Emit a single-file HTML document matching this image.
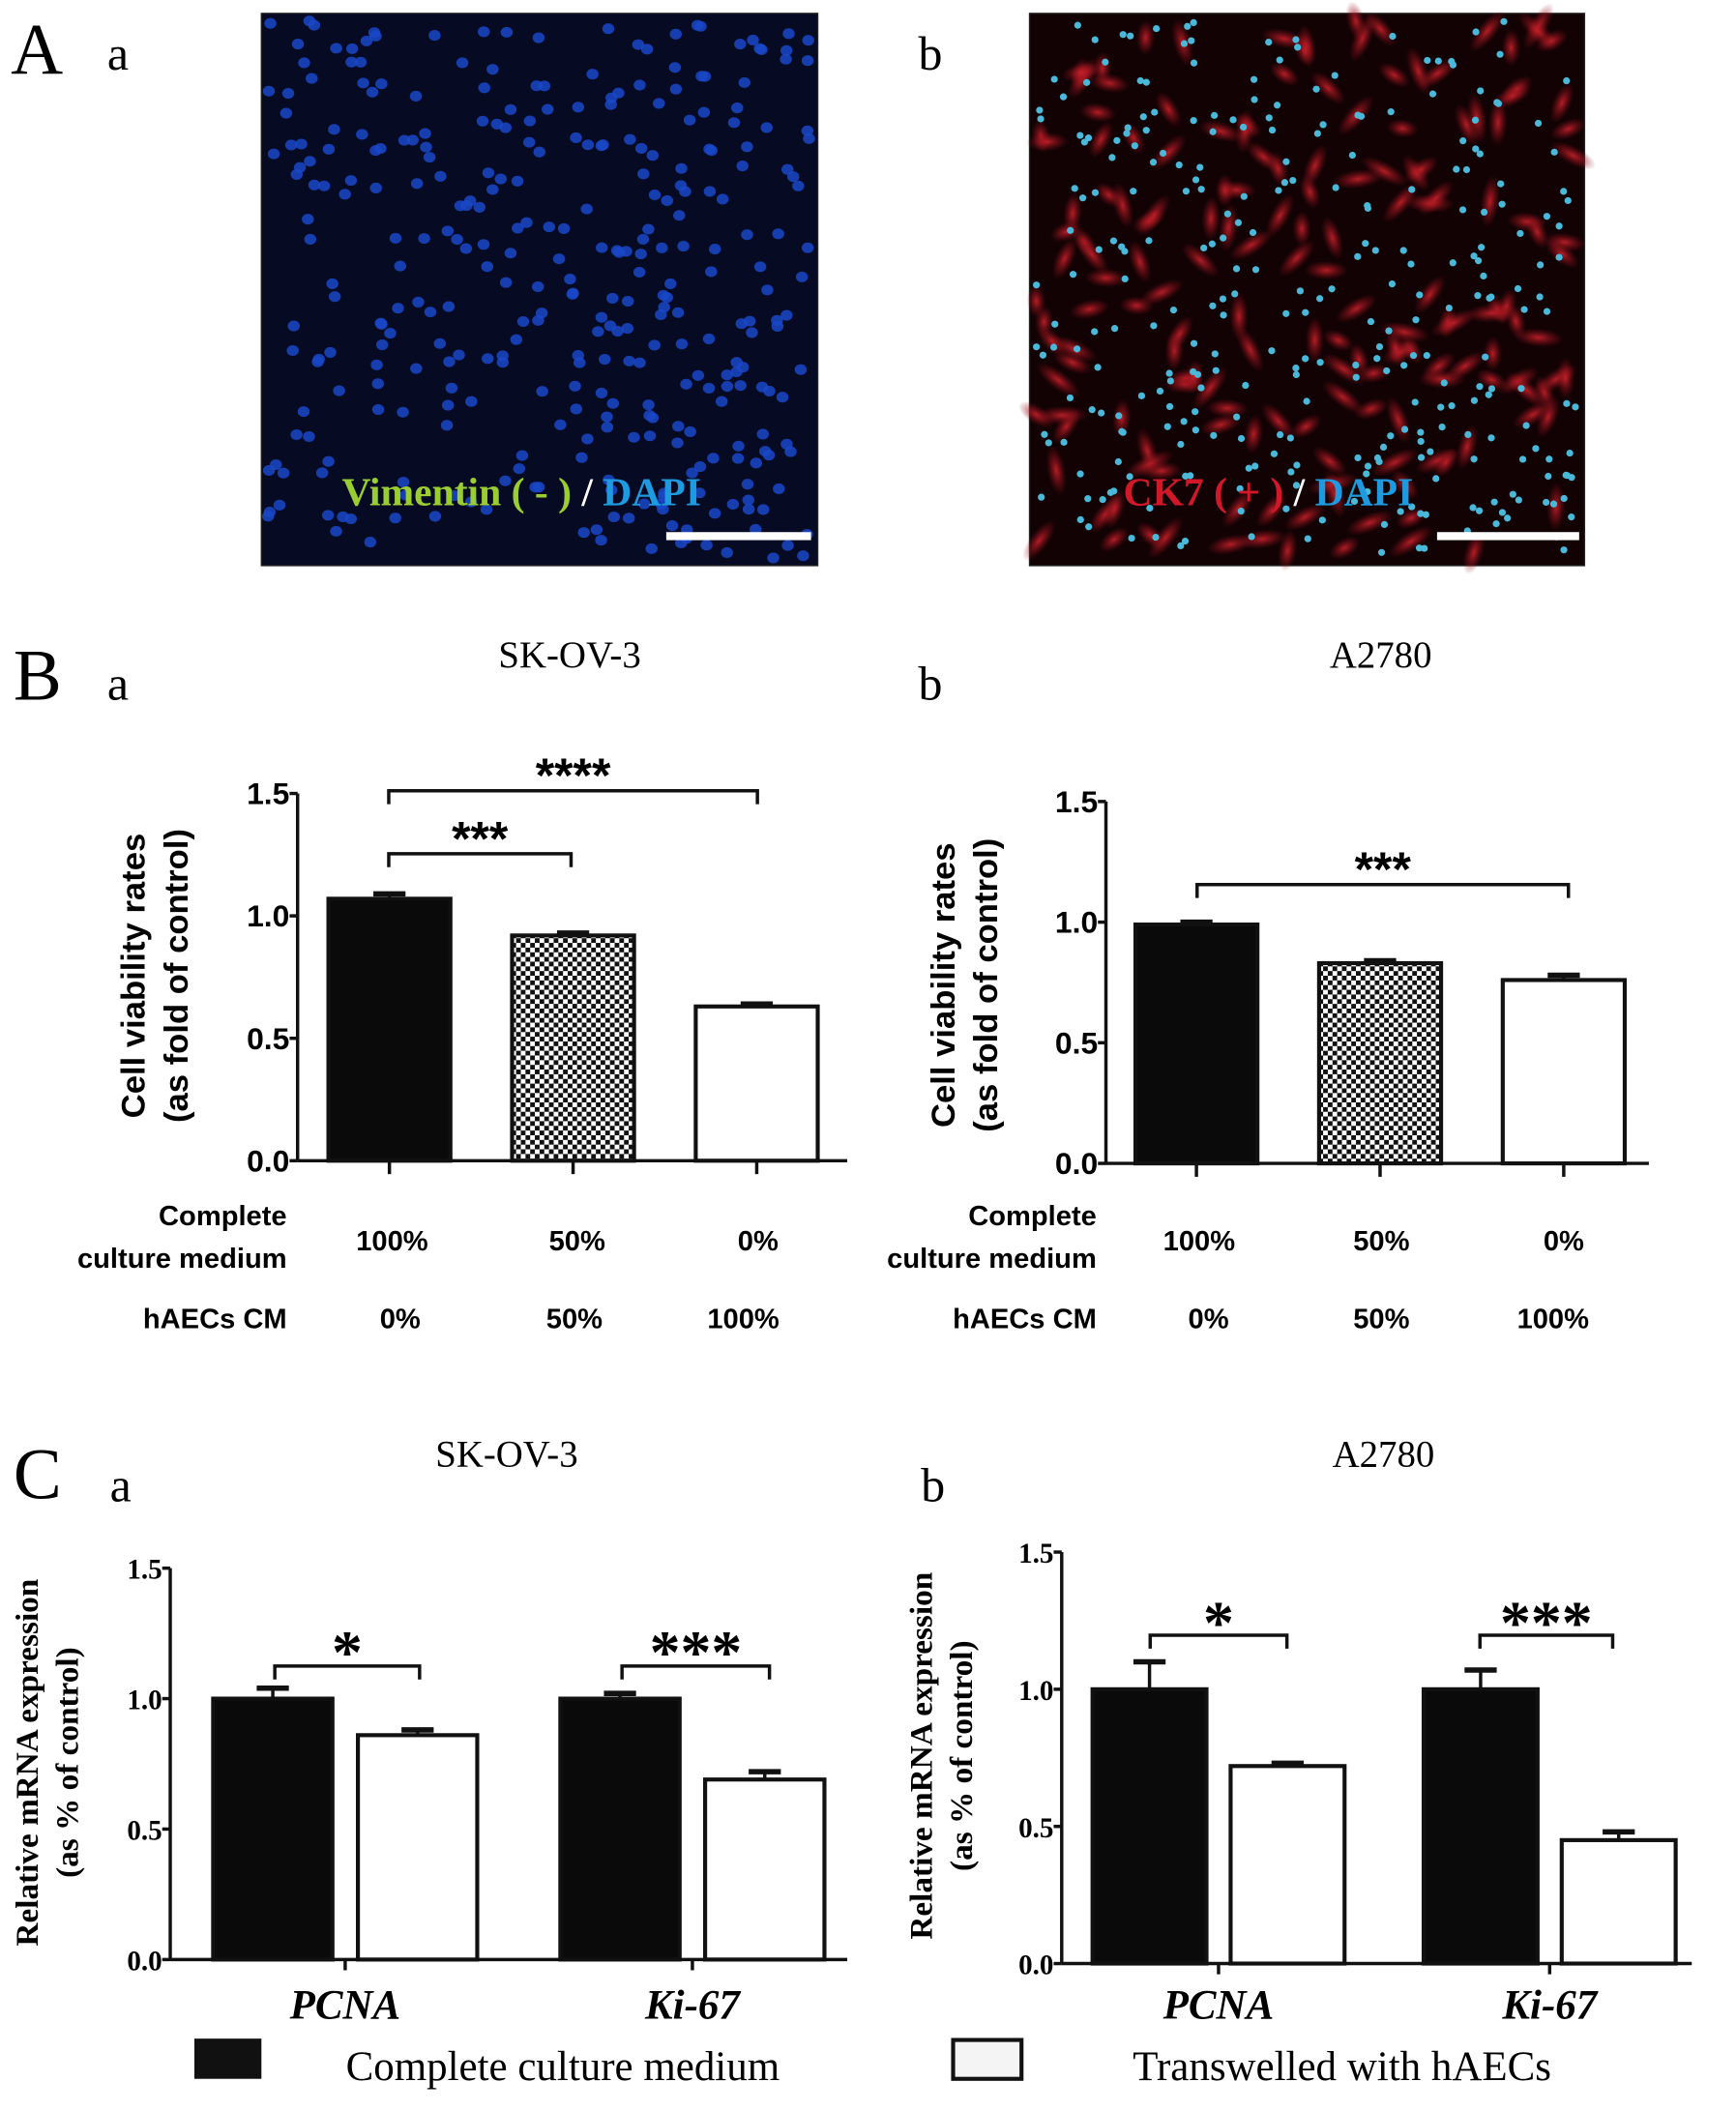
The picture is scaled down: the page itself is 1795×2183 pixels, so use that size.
<!DOCTYPE html>
<html><head><meta charset="utf-8"><style>
html,body{margin:0;padding:0;background:#fff;width:1795px;height:2183px;overflow:hidden}
svg{display:block}
.sans{font-family:"Liberation Sans",sans-serif;font-weight:bold}
.serif{font-family:"Liberation Serif",serif;font-weight:bold}
.norm{font-weight:normal}
</style></head><body>
<svg id="fig" width="1795" height="2183" viewBox="0 0 1295 1575" preserveAspectRatio="none" xmlns="http://www.w3.org/2000/svg">
<defs>
<pattern id="checker" width="7" height="7" patternUnits="userSpaceOnUse">
<rect width="7" height="7" fill="#fff"/><rect width="3.5" height="3.5" fill="#111"/><rect x="3.5" y="3.5" width="3.5" height="3.5" fill="#111"/>
</pattern>
<radialGradient id="redcell"><stop offset="0" stop-color="#c8202a" stop-opacity="0.9"/><stop offset="1" stop-color="#8a0f18" stop-opacity="0"/></radialGradient>
</defs>
<g class="serif norm" font-size="54">
<text x="8" y="55">A</text>
<text x="10" y="522">B</text>
<text x="10" y="1118">C</text>
</g>
<g class="serif norm" font-size="36">
<text x="80" y="52">a</text>
<text x="685" y="52">b</text>
<text x="80" y="522">a</text>
<text x="685" y="522">b</text>
<text x="82" y="1120">a</text>
<text x="687" y="1120">b</text>
</g>
<rect x="195" y="10" width="415" height="412" fill="#060a22" stroke="#222"/>
<g id="dotsA"></g>
<rect x="768" y="10" width="414" height="412" fill="#120204" stroke="#222"/>
<g id="dotsB"></g>
<text x="255" y="377" class="serif" font-size="30"><tspan fill="#9acd32">Vimentin ( - )</tspan><tspan fill="#fff"> / </tspan><tspan fill="#1e9be0">DAPI</tspan></text>
<text x="838" y="377" class="serif" font-size="30"><tspan fill="#d01828">CK7 ( + )</tspan><tspan fill="#fff"> / </tspan><tspan fill="#1e9be0">DAPI</tspan></text>
<rect x="497" y="397" width="108" height="6" fill="#fff"/>
<rect x="1072" y="397" width="106" height="6" fill="#fff"/>
<g id="charts"></g>
<rect x="145" y="1521" width="50" height="30" fill="#111"/>
<text x="258" y="1552" class="serif norm" font-size="31">Complete culture medium</text>
<rect x="711" y="1522" width="51" height="29" fill="#f4f4f4" stroke="#111" stroke-width="3"/>
<text x="845" y="1552" class="serif norm" font-size="31">Transwelled with hAECs</text>
</svg>
<script>
// Chart data
const yTicks = [0.0, 0.5, 1.0, 1.5];
const bCategories = ["100%", "50%", "0%"];
const bCM = ["0%", "50%", "100%"];
const bSKValues = [1.07, 0.92, 0.63];
const bSKErrors = [0.02, 0.01, 0.01];
const bA2780Values = [0.99, 0.83, 0.76];
const bA2780Errors = [0.01, 0.01, 0.02];
const cGenes = ["PCNA", "Ki-67"];
const cSKComplete = [1.00, 1.00];
const cSKCompleteErr = [0.04, 0.02];
const cSKTrans = [0.86, 0.69];
const cSKTransErr = [0.02, 0.03];
const cA2780Complete = [1.00, 1.00];
const cA2780CompleteErr = [0.10, 0.07];
const cA2780Trans = [0.72, 0.45];
const cA2780TransErr = [0.01, 0.03];

const NS = "http://www.w3.org/2000/svg";
const root = document.getElementById('charts');
function mk(tag, attrs, parent, text) {
  const e = document.createElementNS(NS, tag);
  for (const k in attrs) e.setAttribute(k, attrs[k]);
  if (text !== undefined) e.textContent = text;
  (parent || root).appendChild(e);
  return e;
}

let seed = 7;
function rnd() { seed = (seed * 16807) % 2147483647; return seed / 2147483647; }
const gA = document.getElementById('dotsA');
for (let i = 0; i < 330; i++) {
  const d = mk('ellipse', {cx: 200 + rnd() * 405, cy: 15 + rnd() * 402, rx: 4.5, ry: 4, fill: '#1a48c8', opacity: 0.85}, gA);
  
  
}
const gB = document.getElementById('dotsB');
for (let i = 0; i < 170; i++) {
  const x = 773 + rnd() * 404, y = 15 + rnd() * 402;
  const c = mk('ellipse', {cx: x, cy: y, rx: 12 + rnd() * 8, ry: 7, fill: 'url(#redcell)', transform: `rotate(${rnd()*180} ${x} ${y})`}, gB);
  
  
}
for (let i = 0; i < 300; i++) {
  const d = mk('circle', {cx: 773 + rnd() * 404, cy: 15 + rnd() * 402, r: 2.6, fill: '#4ab8d8'}, gB);
  
  
}

function axes(cfg) {
  const y = v => cfg.y0 - (v / 1.5) * (cfg.y0 - cfg.y15);
  const g = mk('g', {});
  
  
  mk('line', {x1: cfg.ax, y1: cfg.y15, x2: cfg.ax, y2: cfg.y0, stroke: '#111', 'stroke-width': 2.5}, g);
  mk('line', {x1: cfg.ax, y1: cfg.y0, x2: cfg.axEnd, y2: cfg.y0, stroke: '#111', 'stroke-width': 2.5}, g);
  yTicks.forEach(t => {
    mk('line', {x1: cfg.ax - 6, y1: y(t), x2: cfg.ax, y2: y(t), stroke: '#111', 'stroke-width': 2.5}, g);
    const tl = mk('text', {x: cfg.ax - 6, y: y(t) + 8, 'text-anchor': 'end', 'class': cfg.font, 'font-size': cfg.tickSize}, g, t.toFixed(1));
    
    
  });
  const tt = mk('text', {'class': cfg.font, 'font-size': cfg.titleSize, 'text-anchor': 'middle', transform: `translate(${cfg.tx},${cfg.ty}) rotate(-90)`}, g);
  mk('tspan', {x: 0, dy: 0}, tt, cfg.title1);
  mk('tspan', {x: 0, dy: cfg.lh}, tt, cfg.title2);
  
  
  return {g, y};
}
function bar(g, x, w, y0, yv, fill, name) {
  const r = mk('rect', {x, y: yv, width: w, height: y0 - yv, fill, stroke: '#111', 'stroke-width': 3}, g);
  
  
}
function err(g, cx, yTop, yv) {
  mk('line', {x1: cx, y1: yv, x2: cx, y2: yTop, stroke: '#111', 'stroke-width': 2.5}, g);
  mk('line', {x1: cx - 12, y1: yTop, x2: cx + 12, y2: yTop, stroke: '#111', 'stroke-width': 4}, g);
}
function bracket(g, x1, x2, yb, stars, sy, size, font) {
  mk('path', {d: `M${x1} ${yb + 10} V${yb} H${x2} V${yb + 10}`, fill: 'none', stroke: '#111', 'stroke-width': 2.5}, g);
  const s = mk('text', {x: (x1 + x2) / 2, y: sy, 'text-anchor': 'middle', 'class': font, 'font-size': size}, g, stars);
  
  
}

function panelB(o, vals, errs) {
  const {g, y} = axes(o);
  const fills = ['#0a0a0a', 'url(#checker)', '#fff'];
  vals.forEach((v, i) => {
    const x = o.barX + i * o.step, cx = x + o.bw / 2;
    err(g, cx, y(v + errs[i]), y(v));
    bar(g, x, o.bw, o.y0, y(v), fills[i], 'bar-' + bCategories[i]);
    mk('line', {x1: cx, y1: o.y0, x2: cx, y2: o.y0 + 10, stroke: '#111', 'stroke-width': 2.5}, g);
    const a = mk('text', {x: cx + o.lab1dx[i], y: 933, 'text-anchor': 'middle', 'class': 'sans', 'font-size': 21}, g, bCategories[i]);
    
    
    const b = mk('text', {x: cx + o.lab2dx[i], y: 991, 'text-anchor': 'middle', 'class': 'sans', 'font-size': 21}, g, bCM[i]);
    
    
  });
  const l1 = mk('text', {x: o.rowX, y: 914, 'text-anchor': 'end', 'class': 'sans', 'font-size': 21}, g, 'Complete');
  
  
  mk('text', {x: o.rowX, y: 946, 'text-anchor': 'end', 'class': 'sans', 'font-size': 21}, g, 'culture medium');
  const l2 = mk('text', {x: o.rowX, y: 991, 'text-anchor': 'end', 'class': 'sans', 'font-size': 21}, g, 'hAECs CM');
  
  
  const t = mk('text', {x: o.titleX, y: 498, 'text-anchor': 'middle', 'class': 'serif norm', 'font-size': 28}, g, o.chartTitle);
  
  
  return {g, y};
}

const B1 = panelB({name: 'chart-b-skov3', ax: 222, axEnd: 632, y0: 866, y15: 592, tx: 108, ty: 728, lh: 32, title1: 'Cell viability rates', title2: '(as fold of control)', font: 'sans', tickSize: 23, titleSize: 25, barX: 245, bw: 91, step: 137, rowX: 214, lab1dx: [2, 3, 1], lab2dx: [8, 1, -10], titleX: 425, chartTitle: 'SK-OV-3'}, bSKValues, bSKErrors);
bracket(B1.g, 290, 426, 637, '***', 638, 36, 'sans');
bracket(B1.g, 290, 565, 590, '****', 591, 36, 'sans');
const B2 = panelB({name: 'chart-b-a2780', ax: 825, axEnd: 1230, y0: 868, y15: 598, tx: 712, ty: 735, lh: 32, title1: 'Cell viability rates', title2: '(as fold of control)', font: 'sans', tickSize: 23, titleSize: 25, barX: 847, bw: 91, step: 137, rowX: 818, lab1dx: [2, 1, 0], lab2dx: [9, 1, -8], titleX: 1030, chartTitle: 'A2780'}, bA2780Values, bA2780Errors);
bracket(B2.g, 893, 1170, 660, '***', 661, 36, 'sans');

function panelC(o, comp, compE, trans, transE) {
  const {g, y} = axes(o);
  cGenes.forEach((gn, i) => {
    const x1 = o.barX + i * o.step, x2 = x1 + o.bw + o.gap;
    err(g, x1 + o.bw / 2, y(comp[i] + compE[i]), y(comp[i]));
    bar(g, x1, o.bw, o.y0, y(comp[i]), '#0a0a0a', 'bar-complete-' + gn);
    err(g, x2 + o.bw / 2, y(trans[i] + transE[i]), y(trans[i]));
    bar(g, x2, o.bw, o.y0, y(trans[i]), '#fff', 'bar-transwelled-' + gn);
    const cx = x1 + o.bw + o.gap / 2;
    mk('line', {x1: cx, y1: o.y0, x2: cx, y2: o.y0 + 8, stroke: '#111', 'stroke-width': 2.5}, g);
    const l = mk('text', {x: cx, y: 1506, 'text-anchor': 'middle', 'class': 'serif', 'font-style': 'italic', 'font-size': 31}, g, gn);
    
    
  });
  const t = mk('text', {x: o.titleX, y: 1094, 'text-anchor': 'middle', 'class': 'serif norm', 'font-size': 28}, g, o.chartTitle);
  
  
  return {g, y};
}
const C1 = panelC({name: 'chart-c-skov3', ax: 127, axEnd: 632, y0: 1462, y15: 1170, tx: 28, ty: 1315, lh: 30, title1: 'Relative mRNA expression', title2: '(as % of control)', font: 'serif', tickSize: 21, titleSize: 24, barX: 159, bw: 89, gap: 19, step: 259, titleX: 378, chartTitle: 'SK-OV-3'}, cSKComplete, cSKCompleteErr, cSKTrans, cSKTransErr);
bracket(C1.g, 205, 313, 1243, '*', 1248, 46, 'serif');
bracket(C1.g, 464, 574, 1243, '***', 1248, 46, 'serif');
const C2 = panelC({name: 'chart-c-a2780', ax: 792, axEnd: 1262, y0: 1465, y15: 1158, tx: 695, ty: 1310, lh: 30, title1: 'Relative mRNA expression', title2: '(as % of control)', font: 'serif', tickSize: 21, titleSize: 24, barX: 815, bw: 85, gap: 18, step: 247, titleX: 1032, chartTitle: 'A2780'}, cA2780Complete, cA2780CompleteErr, cA2780Trans, cA2780TransErr);
bracket(C2.g, 858, 960, 1220, '*', 1226, 46, 'serif');
bracket(C2.g, 1104, 1203, 1220, '***', 1226, 46, 'serif');
</script>
</body></html>
